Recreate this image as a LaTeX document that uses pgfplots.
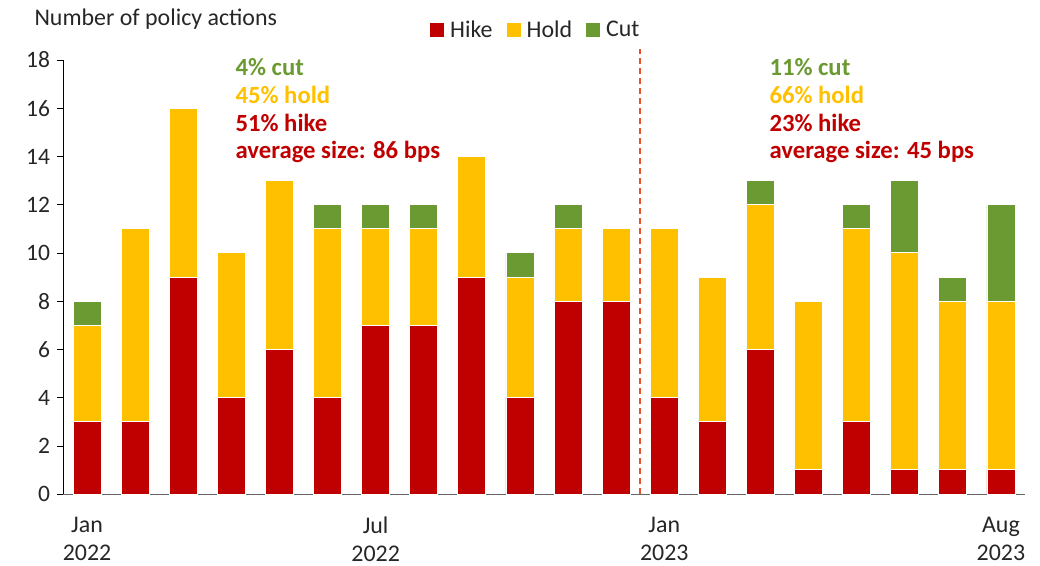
\documentclass[border=0pt]{standalone}
\usepackage{pgfplots}
\pgfplotsset{compat=1.18}
\usepackage{fontspec}
\setmainfont{Carlito}
\definecolor{hike}{HTML}{C00000}
\definecolor{hold}{HTML}{FFC000}
\definecolor{cut}{HTML}{6B9A32}
\definecolor{dline}{HTML}{E8532E}
\definecolor{txt}{HTML}{262626}
\begin{document}
\begin{tikzpicture}[font=\fontsize{12}{14}\selectfont]
\begin{axis}[
  scale only axis,
  width=481bp, height=217bp,
  ybar stacked,
  bar width=14bp,
  xmin=-0.5, xmax=19.5,
  ymin=0, ymax=18,
  ytick={0,2,...,18},
  xtick={0,6,12,19},
  xticklabels={{Jan\\2022},{Jul\\2022},{Jan\\2023},{Aug\\2023}},
  xticklabel style={align=center, font=\fontsize{12}{14.2}\selectfont, text=txt, yshift=-5bp},
  yticklabel style={text=txt, font=\fontsize{11.8}{14}\selectfont},
  /pgf/number format/assume math mode=true,
  axis x line=bottom, axis y line=left,
  axis line style={-},
  x axis line style={draw=gray!80!black},
  y axis line style={draw=black},
  xtick style={draw=none},
  ytick style={draw=black},
  tick align=outside,
  major tick length=3bp,
  clip=false,
  legend columns=3,
  legend image code/.code={\fill[draw=none] (0bp,-3.5bp) rectangle (7bp,3.5bp);},
  legend style={at={(rel axis cs:0.4905,1.068)}, anchor=center, draw=none, fill=none,
     font=\fontsize{12}{14}\selectfont, text=txt, inner sep=0pt,
     nodes={inner sep=0pt},
     /tikz/every odd column/.append style={column sep=3bp},
     /tikz/every even column/.append style={column sep=7bp}},
]
\addplot[fill=hike, draw=white] coordinates {(0,3)(1,3)(2,9)(3,4)(4,6)(5,4)(6,7)(7,7)(8,9)(9,4)(10,8)(11,8)(12,4)(13,3)(14,6)(15,1)(16,3)(17,1)(18,1)(19,1)};
\addlegendentry{Hike}
\addplot[fill=hold, draw=white] coordinates {(0,4)(1,8)(2,7)(3,6)(4,7)(5,7)(6,4)(7,4)(8,5)(9,5)(10,3)(11,3)(12,7)(13,6)(14,6)(15,7)(16,8)(17,9)(18,7)(19,7)};
\addlegendentry{Hold}
\addplot[fill=cut, draw=white] coordinates {(0,1)(1,0)(2,0)(3,0)(4,0)(5,1)(6,1)(7,1)(8,0)(9,1)(10,1)(11,0)(12,0)(13,0)(14,1)(15,0)(16,1)(17,3)(18,1)(19,4)};
\addlegendentry{Cut}
\draw[dline, line width=1pt, dash pattern=on 3bp off 2bp] (axis cs:11.5,0) -- (axis cs:11.5,18.45);
\node[anchor=west, inner sep=0pt, text=txt] at (rel axis cs:-0.030,1.094) {Number of policy actions};
\node[anchor=west, inner sep=0pt, text=cut, font=\bfseries\fontsize{12.4}{14}\selectfont]  at (axis cs:3.08,17.7) {4\% cut};
\node[anchor=west, inner sep=0pt, text=hold, font=\bfseries\fontsize{12.4}{14}\selectfont] at (axis cs:3.08,16.55) {45\% hold};
\node[anchor=west, inner sep=0pt, text=hike, font=\bfseries\fontsize{12.4}{14}\selectfont] at (axis cs:3.08,15.4) {51\% hike};
\node[anchor=west, inner sep=0pt, text=hike, font=\bfseries\fontsize{12.4}{14}\selectfont] at (axis cs:3.08,14.2) {average size: 86 bps};
\node[anchor=west, inner sep=0pt, text=cut, font=\bfseries\fontsize{12.4}{14}\selectfont]  at (axis cs:14.18,17.7) {11\% cut};
\node[anchor=west, inner sep=0pt, text=hold, font=\bfseries\fontsize{12.4}{14}\selectfont] at (axis cs:14.18,16.55) {66\% hold};
\node[anchor=west, inner sep=0pt, text=hike, font=\bfseries\fontsize{12.4}{14}\selectfont] at (axis cs:14.18,15.4) {23\% hike};
\node[anchor=west, inner sep=0pt, text=hike, font=\bfseries\fontsize{12.4}{14}\selectfont] at (axis cs:14.18,14.2) {average size: 45 bps};
\coordinate (bl) at (rel axis cs:0,0);
\coordinate (tr) at (rel axis cs:1,1);
\end{axis}
\pgfresetboundingbox
\path[use as bounding box] ([xshift=-31.5bp,yshift=-36bp]bl) rectangle ([xshift=7.5bp,yshift=30bp]tr);
\end{tikzpicture}
\end{document}
